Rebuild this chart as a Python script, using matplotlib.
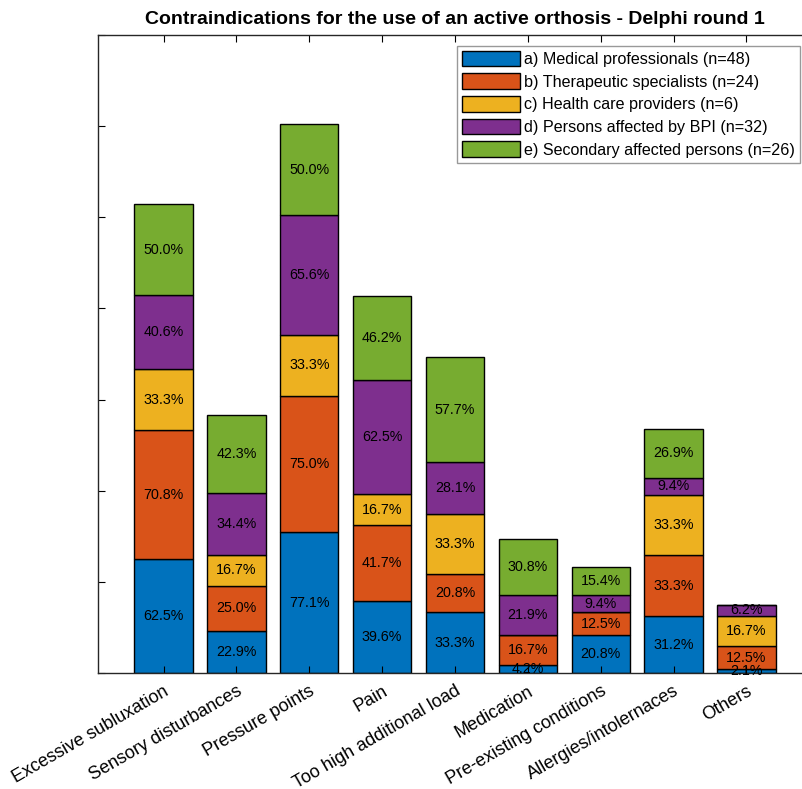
import numpy as np
import matplotlib
matplotlib.use('Agg')
from matplotlib import pyplot as plt

plt.rcParams['font.family'] = ['Liberation Sans', 'DejaVu Sans']

categories = ['Excessive subluxation', 'Sensory disturbances', 'Pressure points', 'Pain',
              'Too high additional load', 'Medication', 'Pre-existing conditions',
              'Allergies/intolernaces', 'Others']
groups = ['a) Medical professionals (n=48)', 'b) Therapeutic specialists (n=24)',
          'c) Health care providers (n=6)', 'd) Persons affected by BPI (n=32)',
          'e) Secondary affected persons (n=26)']

# percentages per group, one value per category
medical = [62.5, 22.9, 77.1, 39.6, 33.3, 4.2, 20.8, 31.2, 2.1]
therapeutic = [70.8, 25.0, 75.0, 41.7, 20.8, 16.7, 12.5, 33.3, 12.5]
health_care = [33.3, 16.7, 33.3, 16.7, 33.3, 0.0, 0.0, 33.3, 16.7]
bpi = [40.6, 34.4, 65.6, 62.5, 28.1, 21.9, 9.4, 9.4, 6.2]
secondary = [50.0, 42.3, 50.0, 46.2, 57.7, 30.8, 15.4, 26.9, 0.0]

series = [medical, therapeutic, health_care, bpi, secondary]
colors = ['#0072BD', '#D95319', '#EDB120', '#7E2F8E', '#77AC30']

fig = plt.figure(figsize=(8.02, 7.89), dpi=100)
ax = fig.add_axes([98/802, 116/789, 714/802, 638/789])

x = np.arange(1, len(categories) + 1)
bottom = np.zeros(len(categories))
for vals, col, lab in zip(series, colors, groups):
    vals = np.array(vals)
    ax.bar(x, vals, 0.8, bottom=bottom, color=col, edgecolor='black', linewidth=1, label=lab)
    for xi, b, v in zip(x, bottom, vals):
        if v > 0:
            ax.text(xi, b + v / 2, '%.1f%%' % v, ha='center', va='center', fontsize=10.3)
    bottom = bottom + vals

ax.set_xlim(0.1, 9.9)
ax.set_ylim(0, 350)
ax.set_xticks(x)
ax.set_xticklabels(categories, rotation=30, ha='right', va='top', rotation_mode='anchor',
                   fontsize=13)
ax.set_yticks(np.arange(0, 351, 50))
ax.set_yticklabels([])
ax.tick_params(direction='in', top=True, right=True, length=5, width=0.8, pad=7)
for s in ax.spines.values():
    s.set_linewidth(1)
    s.set_color('#262626')

ax.set_title('Contraindications for the use of an active orthosis - Delphi round 1',
             fontsize=14, fontweight='bold', pad=8)

leg = ax.legend(loc='upper right', bbox_to_anchor=(800/802, 1 - 46/789),
                bbox_transform=fig.transFigure, fontsize=11.6, fancybox=False,
                framealpha=1, edgecolor='#999999', borderpad=0.3, labelspacing=0.4,
                handlelength=3.6, handleheight=1.1, handletextpad=0.25, borderaxespad=0)

fig.savefig('out.png', dpi=100)
